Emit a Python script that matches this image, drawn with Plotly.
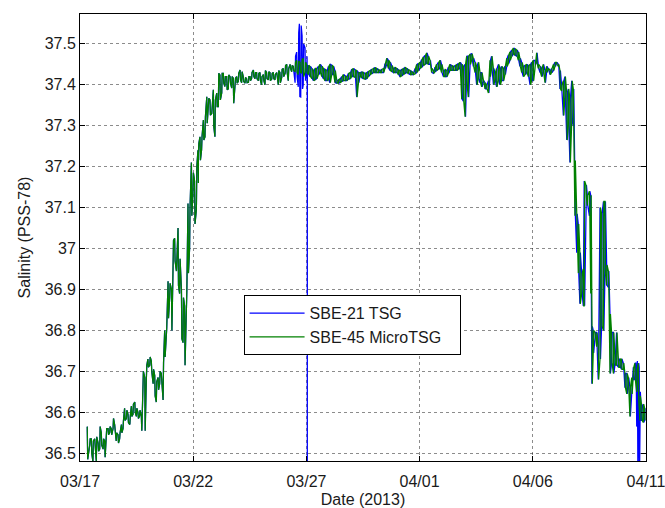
import pandas as pd
import plotly.graph_objects as go

# ---- data: (days since 2013-03-17 00:00, local max, local min) salinity ----
sbe45_rise = [
    (0.32, 36.565, 36.485), (0.43, 36.535, 36.52), (0.50, 36.535, 36.50), (0.57, 36.53, 36.48),
    (0.65, 36.535, 36.51), (0.72, 36.54, 36.48), (0.80, 36.525, 36.505), (0.87, 36.565, 36.51),
    (0.94, 36.55, 36.52), (1.02, 36.535, 36.51), (1.09, 36.53, 36.49), (1.16, 36.56, 36.53),
    (1.24, 36.56, 36.545), (1.31, 36.565, 36.55), (1.38, 36.56, 36.545), (1.46, 36.585, 36.56),
    (1.53, 36.57, 36.55), (1.60, 36.55, 36.53), (1.68, 36.545, 36.525), (1.75, 36.55, 36.535),
    (1.83, 36.57, 36.55), (1.90, 36.58, 36.56), (1.97, 36.61, 36.58), (2.05, 36.605, 36.585),
    (2.12, 36.595, 36.575), (2.20, 36.59, 36.57), (2.27, 36.615, 36.59), (2.34, 36.62, 36.595),
    (2.42, 36.625, 36.60), (2.49, 36.61, 36.59), (2.56, 36.60, 36.585), (2.63, 36.605, 36.59),
    (2.71, 36.59, 36.555), (2.78, 36.70, 36.66), (2.86, 36.685, 36.555), (2.93, 36.715, 36.68),
    (3.00, 36.73, 36.71), (3.08, 36.735, 36.715), (3.15, 36.725, 36.70), (3.23, 36.705, 36.67),
    (3.30, 36.69, 36.64), (3.37, 36.675, 36.625), (3.45, 36.685, 36.655), (3.52, 36.70, 36.67),
    (3.59, 36.695, 36.68), (3.67, 36.72, 36.63), (3.74, 36.80, 36.735), (3.81, 36.805, 36.77),
    (3.89, 36.92, 36.83), (3.96, 36.915, 36.88), (4.04, 36.90, 36.80), (4.11, 37.02, 36.955),
    (4.18, 37.025, 36.97), (4.26, 36.995, 36.945), (4.33, 37.05, 36.91), (4.40, 36.975, 36.89),
    (4.48, 36.90, 36.78), (4.55, 36.88, 36.77), (4.62, 36.86, 36.715), (4.70, 36.90, 36.825),
    (4.77, 37.11, 36.94), (4.84, 37.10, 37.00), (4.92, 37.21, 37.08), (4.99, 37.185, 37.135),
    (5.06, 37.165, 37.06), (5.14, 37.20, 37.095), (5.21, 37.24, 37.16), (5.23, 37.257, 37.233),
    (5.30, 37.273, 37.216), (5.37, 37.273, 37.241), (5.45, 37.314, 37.265), (5.52, 37.322, 37.273),
    (5.60, 37.371, 37.306), (5.67, 37.367, 37.347), (5.74, 37.363, 37.326), (5.82, 37.355, 37.33),
    (5.89, 37.388, 37.298), (5.96, 37.363, 37.273), (6.04, 37.38, 37.347), (6.11, 37.428, 37.347),
    (6.18, 37.424, 37.363), (6.26, 37.428, 37.38), (6.33, 37.428, 37.404),
]
sbe45_plateau_a = [
    (6.40, 37.42, 37.396), (6.48, 37.42, 37.388), (6.55, 37.424, 37.39), (6.63, 37.42, 37.404),
    (6.70, 37.42, 37.392), (6.77, 37.416, 37.355), (6.85, 37.416, 37.396), (6.92, 37.42, 37.404),
    (6.99, 37.428, 37.408), (7.07, 37.436, 37.412), (7.14, 37.432, 37.405), (7.21, 37.42, 37.408),
    (7.29, 37.418, 37.404), (7.36, 37.415, 37.405), (7.44, 37.42, 37.406), (7.51, 37.42, 37.41),
    (7.58, 37.43, 37.415), (7.66, 37.436, 37.42), (7.73, 37.43, 37.415), (7.80, 37.43, 37.415),
    (7.88, 37.428, 37.41), (7.95, 37.43, 37.41), (8.02, 37.42, 37.40), (8.10, 37.425, 37.41),
    (8.17, 37.435, 37.40), (8.24, 37.43, 37.415), (8.32, 37.432, 37.412), (8.39, 37.43, 37.41),
    (8.47, 37.428, 37.414), (8.54, 37.43, 37.415), (8.61, 37.425, 37.412), (8.69, 37.43, 37.415),
    (8.76, 37.435, 37.40), (8.83, 37.43, 37.405), (8.91, 37.438, 37.418), (8.98, 37.44, 37.42),
    (9.06, 37.447, 37.428), (9.13, 37.45, 37.43), (9.20, 37.44, 37.41), (9.28, 37.45, 37.44),
    (9.35, 37.447, 37.432), (9.42, 37.445, 37.435), (9.50, 37.455, 37.432), (9.57, 37.46, 37.43),
    (9.64, 37.458, 37.425), (9.72, 37.455, 37.43), (9.79, 37.462, 37.428), (9.86, 37.465, 37.42),
    (9.94, 37.455, 37.43), (10.01, 37.45, 37.43),
]
sbe45_plateau_b = [
    (10.09, 37.448, 37.425), (10.16, 37.445, 37.42), (10.24, 37.44, 37.415), (10.31, 37.435, 37.41),
    (10.38, 37.44, 37.412), (10.45, 37.44, 37.415), (10.53, 37.445, 37.425), (10.60, 37.45, 37.43),
    (10.68, 37.445, 37.42), (10.75, 37.44, 37.415), (10.82, 37.438, 37.41), (10.90, 37.435, 37.41),
    (10.97, 37.445, 37.412), (11.04, 37.45, 37.405), (11.12, 37.448, 37.425), (11.19, 37.445, 37.425),
    (11.26, 37.435, 37.405), (11.34, 37.41, 37.404), (11.41, 37.412, 37.404), (11.48, 37.415, 37.405),
    (11.56, 37.42, 37.408), (11.63, 37.425, 37.41), (11.71, 37.422, 37.41), (11.78, 37.42, 37.41),
    (11.85, 37.428, 37.414), (11.93, 37.43, 37.415), (12.00, 37.438, 37.42), (12.07, 37.44, 37.42),
    (12.15, 37.437, 37.418), (12.22, 37.435, 37.37), (12.30, 37.43, 37.405), (12.37, 37.43, 37.42),
    (12.44, 37.432, 37.417), (12.51, 37.43, 37.415), (12.59, 37.428, 37.414), (12.66, 37.43, 37.415),
    (12.73, 37.433, 37.42), (12.81, 37.435, 37.425), (12.88, 37.438, 37.427), (12.96, 37.44, 37.43),
    (13.03, 37.442, 37.43), (13.10, 37.44, 37.43), (13.18, 37.437, 37.43), (13.25, 37.435, 37.43),
    (13.32, 37.438, 37.43), (13.40, 37.44, 37.43), (13.47, 37.452, 37.44), (13.55, 37.465, 37.45),
    (13.62, 37.46, 37.44), (13.69, 37.455, 37.435), (13.77, 37.447, 37.432), (13.84, 37.44, 37.43),
    (13.91, 37.442, 37.43), (13.99, 37.44, 37.43), (14.06, 37.437, 37.425), (14.13, 37.435, 37.42),
    (14.21, 37.438, 37.422), (14.28, 37.44, 37.425), (14.35, 37.442, 37.428), (14.43, 37.44, 37.43),
    (14.50, 37.437, 37.427), (14.58, 37.435, 37.425), (14.65, 37.432, 37.425), (14.72, 37.43, 37.425),
    (14.80, 37.44, 37.427), (14.87, 37.45, 37.43), (14.94, 37.452, 37.435), (15.02, 37.455, 37.44),
    (15.09, 37.462, 37.443), (15.16, 37.468, 37.447), (15.24, 37.472, 37.45), (15.31, 37.478, 37.452),
]
sbe45_plateau_c = [
    (15.38, 37.47, 37.45), (15.46, 37.46, 37.45), (15.53, 37.44, 37.43), (15.61, 37.435, 37.428),
    (15.68, 37.443, 37.432), (15.75, 37.45, 37.435), (15.83, 37.455, 37.438), (15.90, 37.46, 37.44),
    (15.97, 37.45, 37.43), (16.05, 37.435, 37.42), (16.12, 37.437, 37.42), (16.20, 37.435, 37.42),
    (16.27, 37.443, 37.428), (16.34, 37.45, 37.435), (16.42, 37.447, 37.435), (16.49, 37.445, 37.435),
    (16.57, 37.447, 37.435), (16.64, 37.45, 37.435), (16.71, 37.452, 37.438), (16.78, 37.455, 37.44),
    (16.86, 37.45, 37.365), (16.93, 37.445, 37.36), (17.01, 37.45, 37.322), (17.08, 37.47, 37.40),
    (17.15, 37.47, 37.37), (17.23, 37.475, 37.45), (17.30, 37.476, 37.46), (17.37, 37.465, 37.445),
    (17.45, 37.455, 37.43), (17.52, 37.445, 37.40), (17.59, 37.455, 37.415), (17.67, 37.43, 37.405),
    (17.74, 37.43, 37.395), (17.81, 37.41, 37.405), (17.89, 37.405, 37.39), (17.96, 37.40, 37.39),
    (18.04, 37.41, 37.38), (18.11, 37.46, 37.42), (18.18, 37.47, 37.44), (18.26, 37.44, 37.40),
    (18.33, 37.43, 37.41), (18.40, 37.44, 37.395), (18.48, 37.45, 37.41), (18.55, 37.44, 37.40),
    (18.62, 37.445, 37.41), (18.70, 37.44, 37.41), (18.77, 37.445, 37.425), (18.85, 37.465, 37.445),
    (18.92, 37.473, 37.452), (18.99, 37.48, 37.46), (19.07, 37.485, 37.47), (19.14, 37.49, 37.475),
    (19.21, 37.488, 37.472), (19.29, 37.485, 37.47), (19.36, 37.48, 37.46), (19.43, 37.465, 37.445),
    (19.51, 37.455, 37.43), (19.58, 37.445, 37.42), (19.66, 37.448, 37.425), (19.73, 37.45, 37.43),
    (19.80, 37.447, 37.42), (19.88, 37.45, 37.40), (19.95, 37.455, 37.41), (20.02, 37.46, 37.41),
]
sbe45_fall = [
    (20.10, 37.46, 37.45), (20.17, 37.478, 37.454), (20.24, 37.45, 37.44), (20.32, 37.445, 37.43),
    (20.39, 37.44, 37.42), (20.46, 37.45, 37.43), (20.54, 37.435, 37.405), (20.61, 37.445, 37.43),
    (20.68, 37.44, 37.435), (20.76, 37.435, 37.425), (20.83, 37.44, 37.43), (20.91, 37.45, 37.435),
    (20.98, 37.455, 37.445), (21.05, 37.455, 37.45), (21.13, 37.45, 37.445), (21.20, 37.435, 37.39),
    (21.27, 37.40, 37.385), (21.35, 37.41, 37.325), (21.42, 37.42, 37.37), (21.50, 37.38, 37.265),
    (21.57, 37.39, 37.30), (21.64, 37.365, 37.21), (21.72, 37.41, 37.31), (21.79, 37.39, 37.30),
    (21.86, 37.215, 37.08), (21.94, 37.085, 36.99), (22.01, 37.06, 36.94), (22.08, 36.99, 36.865),
    (22.16, 36.94, 36.89), (22.23, 36.95, 36.86), (22.27, 37.165, 36.86), (22.35, 37.155, 37.125),
    (22.41, 37.13, 37.105), (22.50, 37.14, 37.08), (22.56, 37.13, 36.89), (22.61, 36.81, 36.67),
    (22.67, 36.80, 36.745), (22.75, 36.795, 36.78), (22.82, 36.795, 36.76), (22.89, 36.76, 36.68),
    (22.97, 37.10, 36.73), (23.04, 37.085, 36.81), (23.12, 37.115, 36.80), (23.19, 37.115, 36.94),
    (23.26, 36.96, 36.91), (23.34, 36.945, 36.905), (23.41, 36.84, 36.695), (23.48, 36.795, 36.72),
    (23.56, 36.795, 36.695), (23.63, 36.74, 36.715), (23.70, 36.795, 36.715), (23.78, 36.73, 36.71),
    (23.85, 36.73, 36.71), (23.92, 36.73, 36.705), (24.00, 36.72, 36.705), (24.07, 36.695, 36.66),
    (24.15, 36.695, 36.645), (24.22, 36.685, 36.66), (24.29, 36.66, 36.59), (24.37, 36.685, 36.645),
    (24.44, 36.71, 36.68), (24.51, 36.72, 36.68), (24.59, 36.705, 36.65), (24.66, 36.72, 36.63),
    (24.73, 36.64, 36.58), (24.81, 36.615, 36.58), (24.88, 36.62, 36.575), (24.94, 36.61, 36.58),
]
# SBE-21 follows SBE-45 except in these stretches
sbe21_spike = [
    (9.50, 37.47, 37.405), (9.57, 37.48, 37.42), (9.64, 37.527, 37.395), (9.69, 37.549, 37.371),
    (9.75, 37.545, 37.37), (9.81, 37.52, 37.39), (9.86, 37.50, 37.40), (9.94, 37.49, 37.41),
    (10.01, 37.47, 37.43),
]
# single bad reading (far below the axis) right after the spike
sbe21_dropout_day = [10.040, 10.041, 10.042]
sbe21_dropout_val = [37.37, 36.0, 37.44]
sbe21_end = [
    (24.55, 36.72, 36.69), (24.59, 36.72, 36.565), (24.62, 36.725, 36.47), (24.66, 36.72, 36.46),
    (24.70, 36.71, 36.47), (24.73, 36.65, 36.50), (24.77, 36.63, 36.58),
]

x_tick_days = [0, 5, 10, 15, 20, 25]
x_tick_text = ["03/17", "03/22", "03/27", "04/01", "04/06", "04/11"]
y_tick_vals = [36.5, 36.6, 36.7, 36.8, 36.9, 37.0, 37.1, 37.2, 37.3, 37.4, 37.5]
y_tick_text = ["36.5", "36.6", "36.7", "36.8", "36.9", "37", "37.1", "37.2", "37.3", "37.4", "37.5"]

START = pd.Timestamp("2013-03-17")


def to_date(days):
    return START + pd.to_timedelta(days, unit="D")


def zigzag(rows):
    xs, ys = [], []
    for i, (d, hi, lo) in enumerate(rows):
        a, b = (hi, lo) if i % 2 == 0 else (lo, hi)
        xs += [to_date(d), to_date(d + 0.02)]
        ys += [a, b]
    return xs, ys


sbe45 = sbe45_rise + sbe45_plateau_a + sbe45_plateau_b + sbe45_plateau_c + sbe45_fall
x45, y45 = zigzag(sbe45)

xa, ya = zigzag([r for r in sbe45 if r[0] < 9.47] + sbe21_spike)
xb, yb = zigzag([r for r in sbe45 if 10.08 <= r[0] < 24.54] + sbe21_end
                + [r for r in sbe45 if r[0] > 24.78])
x21 = xa + [to_date(d) for d in sbe21_dropout_day] + xb
y21 = ya + sbe21_dropout_val + yb

FONT = "Liberation Sans, Arial, sans-serif"
TXT = "#1a1a1a"
PAD = "\u00a0\u00a0\u00a0"  # invisible padding so the legend box is as wide as the original

fig = go.Figure()
fig.add_trace(go.Scatter(x=x21, y=y21, mode="lines", name="SBE-21 TSG",
                         line=dict(color="#0000ff", width=1.25)))
fig.add_trace(go.Scatter(x=x45, y=y45, mode="lines", name="SBE-45 MicroTSG" + PAD,
                         line=dict(color="#008000", width=1.25)))

axis_common = dict(showline=True, linecolor="black", linewidth=1, mirror="ticks",
                   ticks="inside", ticklen=5, tickcolor="black", showgrid=True,
                   gridcolor="rgba(0,0,0,0.45)", griddash="dot", gridwidth=1,
                   zeroline=False, automargin=False, ticklabeloverflow="allow",
                   tickfont=dict(family=FONT, size=16, color=TXT))

fig.update_xaxes(type="date", range=[to_date(0), to_date(25.0005)],
                 tickvals=[to_date(d) for d in x_tick_days], ticktext=x_tick_text,
                 ticklabelstandoff=6,
                 title=dict(text="Date (2013)", font=dict(family=FONT, size=16, color=TXT),
                            standoff=5),
                 **axis_common)
fig.update_yaxes(range=[36.481, 37.573], tickvals=y_tick_vals, ticktext=y_tick_text,
                 title=dict(text="Salinity (PSS-78)", font=dict(family=FONT, size=16, color=TXT),
                            standoff=10),
                 **axis_common)

fig.update_layout(
    width=665, height=508,
    margin=dict(l=80, r=19, t=14, b=47),
    paper_bgcolor="white", plot_bgcolor="white",
    font=dict(family=FONT, size=16, color=TXT),
    showlegend=True,
    legend=dict(x=0.289, y=0.371, xanchor="left", yanchor="top",
                bgcolor="white", bordercolor="black", borderwidth=1,
                font=dict(family=FONT, size=16, color=TXT), itemwidth=55),
)

fig.write_html("out.html", config={"displayModeBar": False},
               post_script="document.body.style.margin='0';")
